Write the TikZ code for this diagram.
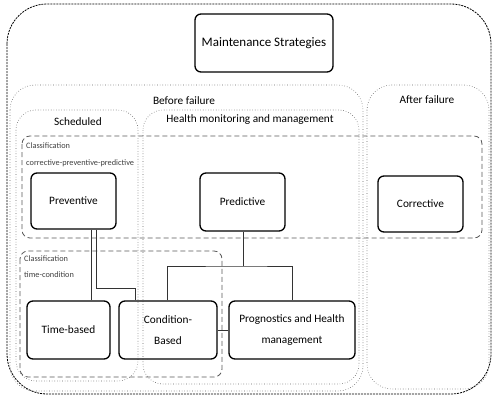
\documentclass[tikz,border=0pt]{standalone}
\usepackage{fontspec}
\setmainfont{Carlito}
\begin{document}
\begin{tikzpicture}[x=1pt,y=-1pt,
  box/.style={draw=black,line width=1.3pt,rounded corners=6pt,align=center,font=\fontsize{11.3}{21}\selectfont},
  region/.style={draw=black!60,dotted,line width=0.6pt},
  classbox/.style={draw=black!65,dash pattern=on 5pt off 3pt,line width=0.8pt},
  lab/.style={font=\fontsize{11.3}{13}\selectfont},
  small/.style={font=\fontsize{8.3}{10}\selectfont,text=black!75,anchor=west,inner sep=0pt},
  conn/.style={draw=black!80,line width=0.6pt}]
\useasboundingbox (0,0) rectangle (495,396);
% outer
\draw[dash pattern=on 2pt off 1pt,line width=0.8pt,rounded corners=40pt] (7,4) rectangle (491,394);
% regions
\draw[region,rounded corners=25pt] (10,85) rectangle (363,391);
\draw[region,rounded corners=25pt] (367,85) rectangle (489,389);
\draw[region,rounded corners=20pt] (16,110) rectangle (138,381);
\draw[region,rounded corners=20pt] (143,110) rectangle (359,384);
% classification boxes
\draw[classbox,rounded corners=8pt] (22,136) rectangle (482,238);
\draw[classbox,rounded corners=8pt] (20,251) rectangle (222,377);
% labels
\node[lab] (lbf) at (184,101) {Before failure};
\node[lab] (laf) at (427,100) {After failure};
\node[lab] (lsch) at (78,122) {Scheduled};
\node[lab] (lhm) at (250,120) {Health monitoring and management};
\node[small] (c1a) at (26,146) {Classification};
\node[small] (c1b) at (26,163) {corrective-preventive-predictive};
\node[small] (c2a) at (24,259) {Classification};
\node[small] (c2b) at (24,275) {time-condition};
% nodes
\node[box,minimum width=138pt,minimum height=58pt,font=\fontsize{13}{15}\selectfont] (ms) at (264,43) {Maintenance Strategies};
\node[box,minimum width=85pt,minimum height=56pt] (prev) at (73.5,201) {Preventive};
\node[box,minimum width=85pt,minimum height=58pt] (pred) at (242.5,202) {Predictive};
\node[box,minimum width=85pt,minimum height=56pt] (corr) at (420.5,204) {Corrective};
\node[box,minimum width=83pt,minimum height=58pt] (tb) at (68.5,330) {Time-based};
\node[box,minimum width=98pt,minimum height=58pt] (cb) at (168,330) {Condition-\\Based};
\node[box,minimum width=126pt,minimum height=58pt] (phm) at (292,330) {Prognostics and Health\\management};
% connectors
\draw[conn] (prev.south -| 91,0) -- (tb.north -| 91,0);
\draw[conn] (prev.south -| 96,0) |- (135,288) -- (cb.north -| 135,0);
\coordinate (j) at (243,266);
\draw[conn] (pred.south -| j) -- (j);
\draw[conn] (cb.north -| 167,0) |- (j) -| (phm.north -| 292,0);
\draw[conn] (cb.east) -- (phm.west);
\end{tikzpicture}
\end{document}
